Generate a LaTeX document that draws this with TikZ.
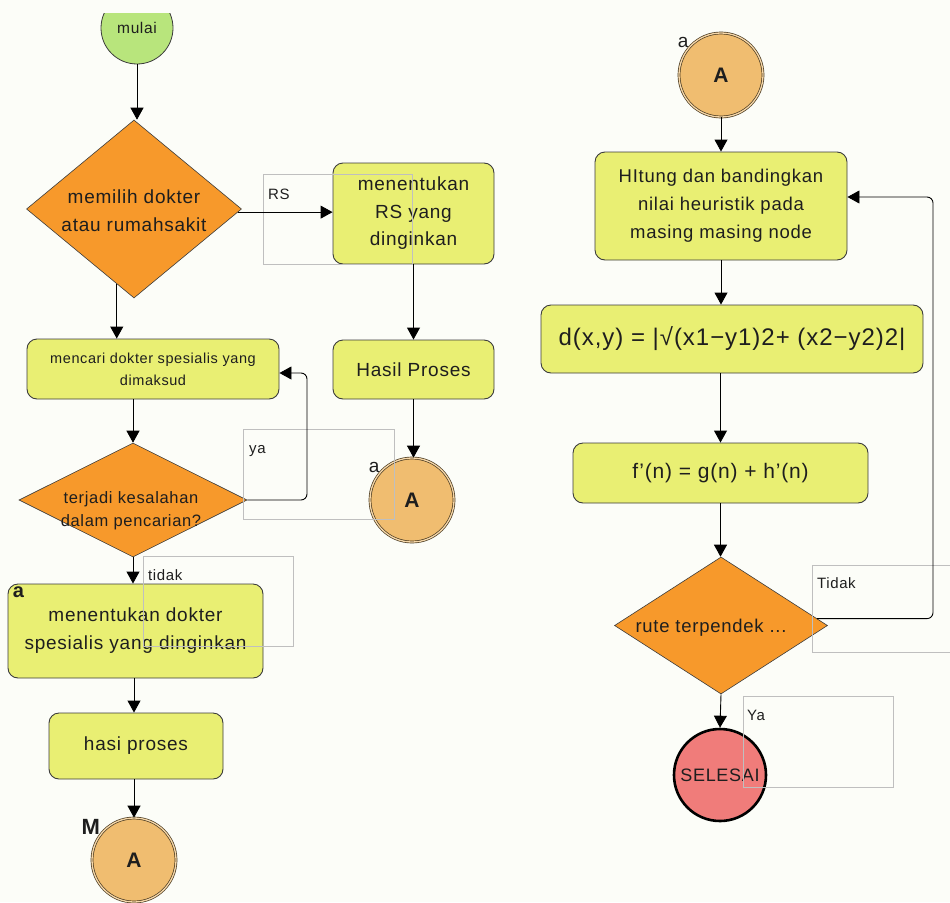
\documentclass[tikz,border=0pt]{standalone}
\usepackage{fontspec}
\setmainfont{Liberation Sans}[LetterSpace=4]
\usetikzlibrary{shapes.geometric,arrows.meta,calc}
\definecolor{bg}{HTML}{FCFDF8}
\definecolor{boxy}{HTML}{E9EF73}
\definecolor{dorange}{HTML}{F7992B}
\definecolor{cono}{HTML}{F0BD70}
\definecolor{conline}{HTML}{4A3A20}
\definecolor{startg}{HTML}{B8E57C}
\definecolor{endr}{HTML}{F07C7A}
\definecolor{edge}{HTML}{3C3C3C}
\definecolor{txt}{HTML}{1E1E1E}
\newcommand{\fs}[2]{\fontsize{#1}{#2}\selectfont}
\begin{document}
\begin{tikzpicture}[x=1pt,y=-1pt,
 proc/.style={rectangle, rounded corners=10pt, draw=edge, line width=0.9pt, fill=boxy, inner sep=0pt, align=center, text=txt},
 dec/.style={diamond, draw=edge, line width=0.6pt, fill=dorange, inner sep=0pt},
 dtxt/.style={align=center, text=txt, inner sep=0pt},
 conn/.style={circle, draw=conline, double=cono!60!white, double distance=1.3pt, line width=0.7pt, fill=cono, inner sep=0pt, minimum size=84pt, text=txt, font=\fs{21}{21}\bfseries},
 arr/.style={draw=black, line width=0.9pt, -{Triangle[width=13pt,length=12pt]}},
 lbox/.style={rectangle, draw=gray!50, line width=0.6pt, anchor=north west, inner sep=0pt},
 ltxt/.style={anchor=base west, font=\fs{15}{15}, text=txt, inner sep=0pt},
 clbl/.style={inner sep=0pt, text=txt, font=\fs{19}{19}},
]
\fill[bg] (0,0) rectangle (950,902);
\useasboundingbox (0,0) rectangle (950,902);

% left column
\begin{scope}
\clip (0,13) rectangle (950,902);
\node[circle, draw=edge, line width=0.8pt, fill=startg, minimum size=72pt, inner sep=0pt, font=\fs{15.5}{15.5}, text=txt] (m) at (137,28) {mulai};
\end{scope}

\node[dec, minimum width=215pt, minimum height=178pt,
  label={[dtxt, font=\fs{19}{28}, yshift=-2pt]center:memilih dokter\\atau rumahsakit}] (d1) at (134,209) {};
\node[proc, minimum width=161pt, minimum height=101pt, font=\fs{19}{27.5}] (rs) at (413.5,213.5) {menentukan\\RS yang\\dinginkan};
\node[proc, minimum width=161pt, minimum height=59pt, font=\fs{19}{19}] (hp) at (413.5,369.5) {Hasil Proses};
\node[conn, label={[clbl]140:a}] (ca) at (412,500) {\raisebox{-7pt}{A}};

\node[proc, minimum width=252pt, minimum height=60pt, font=\fs{14.5}{22}] (b2) at (153,369) {mencari dokter spesialis yang\\dimaksud};
\node[dec, minimum width=228pt, minimum height=114pt,
  label={[dtxt, font=\fs{16.5}{23}, yshift=-11pt, xshift=-2pt]center:terjadi kesalahan\\dalam pencarian?}] (d2) at (133,500) {};
\node[proc, minimum width=255pt, minimum height=94pt, font=\fs{19}{28},
  label={[anchor=north west, inner sep=0pt, font=\fs{20}{20}\bfseries, text=txt, xshift=5pt, yshift=-3pt]north west:a}] (b3) at (135.5,631) {menentukan dokter\\spesialis yang dinginkan};
\node[proc, minimum width=174pt, minimum height=66pt, font=\fs{19}{19}] (b4) at (136,746) {hasi proses};
\node[conn, label={[clbl, font=\fs{22}{22}\bfseries]143:M}] (cm) at (134,860) {\raisebox{-7pt}{A}};

% right column
\node[conn, label={[clbl]140:a}] (ca2) at (721,75) {\raisebox{-7pt}{A}};
\node[proc, minimum width=252pt, minimum height=108pt, font=\fs{18.5}{28}] (b5) at (721,206) {HItung dan bandingkan\\nilai heuristik pada\\masing masing node};
\node[proc, minimum width=382pt, minimum height=68pt, font=\fs{24}{24}] (b6) at (732,339) {d(x,y) = |√(x1−y1)2+ (x2−y2)2|};
\node[proc, minimum width=295pt, minimum height=60pt, font=\fs{21}{21}] (b7) at (720.5,473) {f’(n) = g(n) + h’(n)};
\node[dec, minimum width=213pt, minimum height=137pt,
  label={[dtxt, font=\fs{18.5}{18.5}, xshift=-10pt, yshift=-2pt]center:rute terpendek ...}] (d3) at (721,625.5) {};
\node[circle, draw=black, line width=2.6pt, fill=endr, minimum size=92pt, inner sep=0pt, font=\fs{18}{18}, text=txt] (se) at (720,775) {SELESAI};

% label boxes (drawn over the shapes, as in the reference)
\node[lbox, minimum width=149pt, minimum height=90pt] (lrs) at (263,174) {};
\node[lbox, minimum width=151pt, minimum height=90pt] (lya) at (243,429) {};
\node[lbox, minimum width=150pt, minimum height=90pt] (ltd) at (143,556) {};
\node[lbox, minimum width=150pt, minimum height=87pt] (lTd) at (812,565) {};
\node[lbox, minimum width=150pt, minimum height=91pt] (lYa) at (743,696) {};

% label texts
\node[ltxt] (tRS) at ($(lrs.north west)+(5,25)$) {RS};
\node[ltxt] (tya) at ($(lya.north west)+(6,24)$) {ya};
\node[ltxt] (ttd) at ($(ltd.north west)+(5,24)$) {tidak};
\node[ltxt] (tTd) at ($(lTd.north west)+(5,23)$) {Tidak};
\node[ltxt] (tYa) at ($(lYa.north west)+(4,24)$) {Ya};

% connectors
\coordinate (k2) at (307,373);
\coordinate (k3) at (933,197);
\draw[arr] (m.south) -- (m.south |- d1.north);
\draw[arr] ($(d1.east)!0.035!(d1.south)$) coordinate (s2) -- (s2 -| rs.west);
\draw[arr] (rs.south) -- (hp.north);
\draw[arr] (hp.south) -- (hp.south |- ca.north);
\draw[arr] ($(d1.south)!0.16!(d1.west)$) coordinate (s1) -- (s1 |- b2.north);
\draw[arr] (d2.north |- b2.south) -- (d2.north);
\draw[arr, rounded corners=6pt] (d2.east) -- (d2.east -| k2) -- (k2) -- (k2 -| b2.east);
\draw[arr] (d2.south) -- (d2.south |- b3.north);
\draw[arr] (b3.south -| cm) -- (cm |- b4.north);
\draw[arr] (b4.south -| cm) -- (cm.north);

\draw[arr] (ca2.south) -- (ca2.south |- b5.north);
\draw[arr] (b5.south) -- (b5.south |- b6.north);
\draw[arr] (b6.south -| b7.north) -- (b7.north);
\draw[arr] (b7.south) -- (b7.south |- d3.north);
\draw[arr] (d3.south) -- (se.north);
\draw[arr, rounded corners=6pt] ($(d3.east)!0.1!(d3.north)$) coordinate (s3) -- (s3 -| k3) -- (k3) -- (k3 -| b5.east);
\end{tikzpicture}
\end{document}
